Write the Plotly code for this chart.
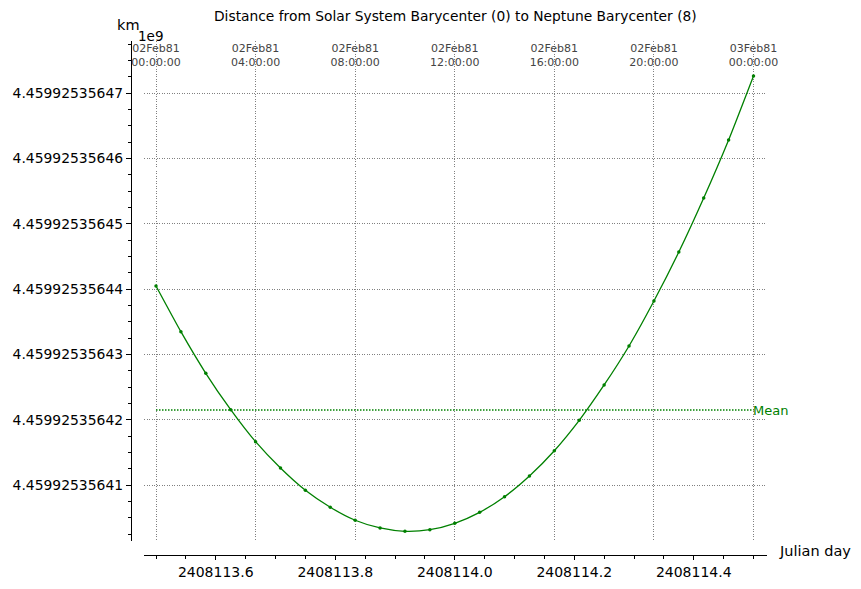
import plotly.graph_objects as go
import numpy as np

# ---------------- data ----------------
JD_START = 2408113.5
HOURS = [0, 1, 2, 3, 4, 5, 6, 7, 8, 9, 10, 11, 12, 13, 14, 15, 16, 17, 18,
         19, 20, 21, 22, 23, 24]
DISTANCE_KM = [
    4459925356.44046, 4459925356.43347, 4459925356.42710, 4459925356.42153,
    4459925356.41663, 4459925356.41260, 4459925356.40919, 4459925356.40659,
    4459925356.40460, 4459925356.40342, 4459925356.40291, 4459925356.40316,
    4459925356.40414, 4459925356.40582, 4459925356.40821, 4459925356.41138,
    4459925356.41525, 4459925356.41990, 4459925356.42531, 4459925356.43128,
    4459925356.43816, 4459925356.44566, 4459925356.45393, 4459925356.46281,
    4459925356.47261,
]
MEAN_KM = 4459925356.42148

Y_TICK_KM = [4459925356.41, 4459925356.42, 4459925356.43, 4459925356.44,
             4459925356.45, 4459925356.46, 4459925356.47]
Y_TICK_LABELS = ["4.45992535641", "4.45992535642", "4.45992535643",
                 "4.45992535644", "4.45992535645", "4.45992535646",
                 "4.45992535647"]
X_TICKS = [2408113.6, 2408113.8, 2408114.0, 2408114.2, 2408114.4]
TOP_TICK_HOURS = [0, 4, 8, 12, 16, 20, 24]
TOP_TICK_LABELS = ["02Feb81<br>00:00:00", "02Feb81<br>04:00:00",
                   "02Feb81<br>08:00:00", "02Feb81<br>12:00:00",
                   "02Feb81<br>16:00:00", "02Feb81<br>20:00:00",
                   "03Feb81<br>00:00:00"]
TITLE = "Distance from Solar System Barycenter (0) to Neptune Barycenter (8)"

# offset to keep float precision on the axis
BASE_KM = 4459925356.40
jd = JD_START + np.array(HOURS) / 24.0
y_plot = np.array(DISTANCE_KM) - BASE_KM
mean_plot = MEAN_KM - BASE_KM
ytick_plot = [v - BASE_KM for v in Y_TICK_KM]
top_ticks = [JD_START + h / 24.0 for h in TOP_TICK_HOURS]

FONT = "DejaVu Sans"
GREEN = "#008000"
GRID = "#808080"
GRID_DASH = "1px,1.5px"

# ---------------- layout geometry ----------------
W, H = 861, 589
L, R, T, B = 131, 94, 41, 34
PW, PH = W - L - R, H - T - B
x_dom0 = 13 / PW
y_dom0 = 14 / PH

def px_x(p):
    return (p - L) / PW

def px_y(p):
    return (H - B - p) / PH

# pixel 144 -> left edge; 1 day = 597.5 px, JD_START at pixel 156
xr = [JD_START - 12 / 597.5, JD_START + 611 / 597.5]
# pixel 41 top, 541 bottom; 0.01 km = 65.33 px; 0.01 offset at pixel 485
yr = [0.01 + (485 - 541) / 65.33 * 0.01, 0.01 + (485 - 41) / 65.33 * 0.01]

fig = go.Figure()
fig.add_trace(go.Scatter(
    x=jd, y=y_plot, mode="lines+markers",
    line=dict(color=GREEN, width=1.3, shape="spline", smoothing=0.6),
    marker=dict(color=GREEN, size=3.5),
    showlegend=False, xaxis="x", yaxis="y",
))
fig.add_trace(go.Scatter(
    x=[jd[0], jd[-1]], y=[mean_plot, mean_plot], mode="lines",
    line=dict(color=GREEN, width=1.3, dash="1.5px,1.5px"),
    showlegend=False, xaxis="x", yaxis="y",
))
# invisible trace that activates the top (date) axis
fig.add_trace(go.Scatter(
    x=[jd[0], jd[-1]], y=[mean_plot, mean_plot], mode="none",
    hoverinfo="skip", showlegend=False, xaxis="x2", yaxis="y",
))

fig.update_layout(
    width=W, height=H,
    margin=dict(l=L, r=R, t=T, b=B, pad=0, autoexpand=False),
    paper_bgcolor="white", plot_bgcolor="white",
    font=dict(family=FONT, color="black", size=13),
    xaxis=dict(
        domain=[x_dom0, 1], range=xr, anchor="free", position=0,
        automargin=False,
        showline=True, linecolor="black", linewidth=1.3,
        showgrid=False, zeroline=False,
        tickmode="array", tickvals=X_TICKS, tickformat=".1f",
        ticks="outside", ticklen=4, tickwidth=1, tickcolor="black",
        tickfont=dict(size=14, family=FONT),
        minor=dict(dtick=0.05, tick0=JD_START, ticks="outside", ticklen=3,
                   tickcolor="black", showgrid=False),
    ),
    xaxis2=dict(
        overlaying="x", matches="x", side="top", anchor="y",
        automargin=False,
        showline=False, zeroline=False,
        showgrid=True, gridcolor=GRID, griddash=GRID_DASH, gridwidth=1,
        tickmode="array", tickvals=top_ticks, ticktext=TOP_TICK_LABELS,
        ticks="", ticklabelposition="inside", ticklabeloverflow="allow",
        tickfont=dict(size=11, family=FONT),
    ),
    yaxis=dict(
        domain=[y_dom0, 1], range=yr, anchor="free", position=0,
        automargin=False,
        showline=True, linecolor="black", linewidth=1.3,
        showgrid=True, gridcolor=GRID, griddash=GRID_DASH, gridwidth=1,
        zeroline=False,
        tickmode="array", tickvals=ytick_plot, ticktext=Y_TICK_LABELS,
        ticks="outside", ticklen=5, tickwidth=1, tickcolor="black",
        tickfont=dict(size=13.9, family=FONT),
        minor=dict(dtick=0.0025, tick0=0, ticks="outside", ticklen=3,
                   tickcolor="black", showgrid=False),
    ),
    annotations=[
        dict(text=TITLE, x=px_x(455), y=px_y(16), xref="paper", yref="paper",
             showarrow=False, xanchor="center", yanchor="middle",
             font=dict(size=13.8, family=FONT)),
        dict(text="km", x=px_x(128), y=px_y(25), xref="paper", yref="paper",
             showarrow=False, xanchor="center", yanchor="middle",
             font=dict(size=14.5, family=FONT)),
        dict(text="1e9", x=px_x(150), y=px_y(36), xref="paper", yref="paper",
             showarrow=False, xanchor="center", yanchor="middle",
             font=dict(size=13.5, family=FONT)),
        dict(text="Julian day", x=px_x(777), y=px_y(551), xref="paper",
             yref="paper", showarrow=False, xanchor="left", yanchor="middle",
             font=dict(size=14.5, family=FONT)),
        dict(text="Mean", x=jd[-1], y=mean_plot, xref="x", yref="y",
             showarrow=False, xanchor="left", yanchor="middle", xshift=-3,
             font=dict(size=13, family=FONT, color=GREEN)),
    ],
)

fig.write_html(
    "out.html",
    config={"displayModeBar": False},
    post_script="document.body.style.margin='0';document.body.style.overflow='hidden';",
)
